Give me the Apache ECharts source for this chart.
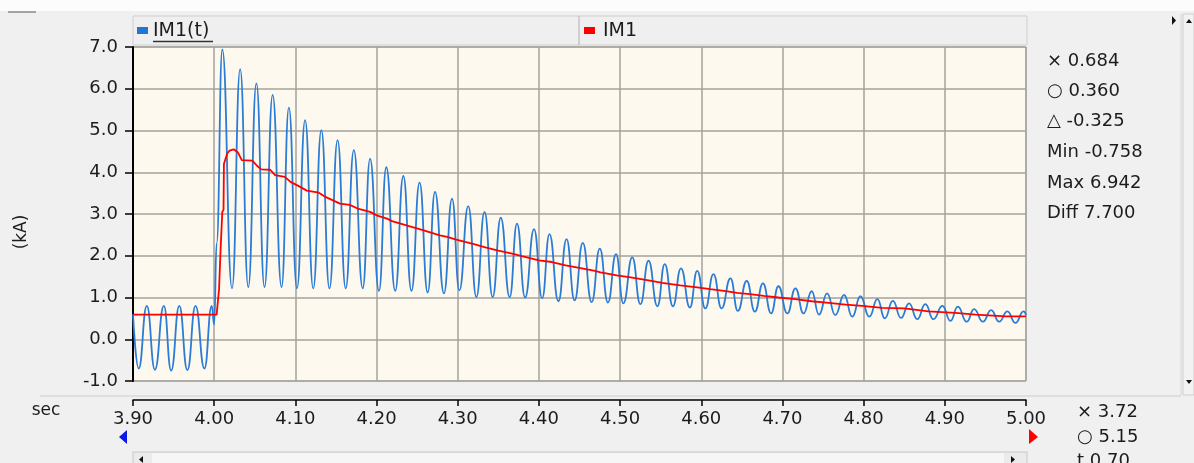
<!DOCTYPE html>
<html>
<head>
<meta charset="utf-8">
<script src="https://cdn.jsdelivr.net/npm/echarts@6/dist/echarts.min.js"></script>
<style>
html,body{margin:0;padding:0;background:#f0f0f0;}
#chart{width:1194px;height:463px;}
</style>
</head>
<body>
<div id="chart"></div>
<script>
// ---- data ----
var xTicksMin = 3.9, xTicksMax = 5.0;
var yTicksMin = -1, yTicksMax = 7;

var blueT = [3.900, 3.907, 3.917, 3.927, 3.938, 3.947, 3.957, 3.967, 3.977, 3.988, 3.997, 4.000, 4.003,
  4.010, 4.022, 4.032, 4.042, 4.052, 4.062, 4.072, 4.083, 4.092, 4.102, 4.112, 4.122, 4.132, 4.142,
  4.152, 4.162, 4.172, 4.183, 4.192, 4.203, 4.212, 4.223, 4.233, 4.243, 4.253, 4.263, 4.272, 4.283,
  4.293, 4.302, 4.313, 4.323, 4.333, 4.343, 4.353, 4.364, 4.373, 4.383, 4.394, 4.404, 4.413, 4.424,
  4.434, 4.444, 4.454, 4.465, 4.475, 4.485, 4.495, 4.504, 4.515, 4.525, 4.535, 4.546, 4.555, 4.565,
  4.575, 4.586, 4.595, 4.605, 4.615, 4.625, 4.636, 4.645, 4.656, 4.666, 4.676, 4.686, 4.695, 4.706,
  4.716, 4.726, 4.736, 4.745, 4.755, 4.765, 4.776, 4.786, 4.796, 4.807, 4.817, 4.826, 4.836, 4.846,
  4.856, 4.866, 4.876, 4.886, 4.897, 4.907, 4.916, 4.927, 4.936, 4.947, 4.957, 4.967, 4.977, 4.987,
  4.997, 5.000];
var blueV = [0.60, -0.70, 0.80, -0.73, 0.80, -0.75, 0.80, -0.74, 0.80, -0.70, 0.80, 0.35, 2.30,
  6.94, 1.22, 6.47, 1.25, 6.13, 1.25, 5.85, 1.25, 5.55, 1.22, 5.25, 1.22, 5.01, 1.22,
  4.77, 1.22, 4.53, 1.22, 4.32, 1.16, 4.12, 1.16, 3.91, 1.16, 3.75, 1.12, 3.53, 1.10,
  3.37, 1.17, 3.19, 1.01, 3.05, 1.01, 2.91, 1.01, 2.77, 1.00, 2.64, 0.98, 2.52, 0.91,
  2.40, 0.93, 2.31, 0.89, 2.17, 0.88, 2.04, 0.86, 1.96, 0.84, 1.88, 0.79, 1.80, 0.79,
  1.70, 0.76, 1.64, 0.74, 1.56, 0.74, 1.46, 0.68, 1.40, 0.66, 1.34, 0.62, 1.27, 0.62,
  1.22, 0.62, 1.15, 0.59, 1.10, 0.58, 1.06, 0.54, 1.03, 0.54, 0.96, 0.50, 0.92, 0.51,
  0.86, 0.48, 0.84, 0.48, 0.80, 0.44, 0.78, 0.42, 0.72, 0.42, 0.70, 0.42, 0.67, 0.39,
  0.67, 0.58];

var redT = [3.900, 4.003, 4.006, 4.008, 4.010, 4.0115, 4.012, 4.016, 4.019, 4.024, 4.029, 4.034, 4.047,
  4.053, 4.058, 4.069, 4.075, 4.087, 4.094, 4.106, 4.114, 4.129, 4.137, 4.155, 4.167, 4.178, 4.192,
  4.201, 4.213, 4.219, 4.238, 4.258, 4.278, 4.287, 4.297, 4.309, 4.320, 4.334, 4.350, 4.367, 4.379,
  4.400, 4.416, 4.433, 4.453, 4.469, 4.476, 4.496, 4.513, 4.535, 4.552, 4.574, 4.595, 4.611, 4.628,
  4.644, 4.660, 4.677, 4.695, 4.716, 4.736, 4.757, 4.778, 4.798, 4.823, 4.850, 4.880, 4.913, 4.938,
  4.975, 5.000];
var redV = [0.59, 0.59, 1.20, 2.20, 3.05, 3.10, 4.20, 4.45, 4.52, 4.55, 4.48, 4.29, 4.28,
  4.15, 4.07, 4.06, 3.93, 3.89, 3.77, 3.65, 3.56, 3.51, 3.41, 3.25, 3.22, 3.12, 3.05,
  2.96, 2.89, 2.83, 2.72, 2.61, 2.49, 2.45, 2.39, 2.33, 2.28, 2.20, 2.12, 2.05, 1.99,
  1.89, 1.85, 1.77, 1.70, 1.64, 1.60, 1.53, 1.48, 1.41, 1.35, 1.29, 1.24, 1.20, 1.16,
  1.11, 1.08, 1.04, 1.00, 0.96, 0.91, 0.87, 0.83, 0.80, 0.75, 0.74, 0.67, 0.63, 0.59,
  0.55, 0.55];

var seriesNames = ['IM1(t)', 'IM1'];
var readouts = ['\u00d7 0.684', '\u25cb 0.360', '\u25b3 -0.325', 'Min -0.758', 'Max 6.942', 'Diff 7.700'];
var timeReadouts = ['\u00d7 3.72', '\u25cb 5.15', 't 0.70'];

// ---- build ----
function zip(a, b) { var r = []; for (var i = 0; i < a.length; i++) r.push([a[i], b[i]]); return r; }

var FONT = 'DejaVu Sans';
var TXT = '#1c1c1c';
var GRID = '#a5a29c';

var chart = echarts.init(document.getElementById('chart'), null, {renderer: 'canvas'});

var graphics = [
  {type: 'rect', shape: {x: 0, y: 0, width: 1194, height: 11}, style: {fill: '#fcfcfc'}, silent: true},
  {type: 'line', shape: {x1: 8, y1: 12, x2: 36, y2: 12}, style: {stroke: '#8a8a8a', lineWidth: 1.5}, silent: true},
  // legend bar
  {type: 'rect', shape: {x: 133, y: 16, width: 894, height: 29}, style: {fill: '#efefef', stroke: '#cfcfcf', lineWidth: 1}, silent: true},
  {type: 'line', shape: {x1: 579, y1: 16, x2: 579, y2: 45}, style: {stroke: '#c4c4c4', lineWidth: 1.5}, silent: true},
  {type: 'rect', shape: {x: 137, y: 27, width: 11, height: 7}, style: {fill: '#1f77d4'}, silent: true},
  {type: 'text', x: 153, y: 31, style: {text: seriesNames[0], font: '19px ' + FONT, fill: TXT, textAlign: 'left', textVerticalAlign: 'middle'}, silent: true},
  {type: 'line', shape: {x1: 153, y1: 41.5, x2: 213, y2: 41.5}, style: {stroke: '#333', lineWidth: 1.5}, silent: true},
  {type: 'rect', shape: {x: 584, y: 27, width: 11, height: 7}, style: {fill: '#ff0000'}, silent: true},
  {type: 'text', x: 603, y: 31, style: {text: seriesNames[1], font: '19px ' + FONT, fill: TXT, textAlign: 'left', textVerticalAlign: 'middle'}, silent: true},
  // right side scroll
  {type: 'polygon', shape: {points: [[1172, 16], [1176, 20.5], [1172, 25]]}, style: {fill: '#111'}, silent: true},
  {type: 'line', shape: {x1: 1181, y1: 14, x2: 1181, y2: 395}, style: {stroke: '#d6d6d6', lineWidth: 1}, silent: true},
  {type: 'rect', shape: {x: 1183, y: 14, width: 11, height: 381}, style: {fill: '#f2f2f2', stroke: '#cfcfcf', lineWidth: 1}, silent: true},
  {type: 'polygon', shape: {points: [[1186, 23], [1189, 19], [1192, 23]]}, style: {fill: '#111'}, silent: true},
  {type: 'polygon', shape: {points: [[1186, 380], [1189, 384], [1192, 380]]}, style: {fill: '#111'}, silent: true},
  // divider above x axis
  {type: 'line', shape: {x1: 40, y1: 396, x2: 1181, y2: 396}, style: {stroke: '#cdcdcd', lineWidth: 1}, silent: true},
  // y axis name
  {type: 'text', x: 22, y: 232, rotation: Math.PI / 2, style: {text: '(kA)', font: '17px ' + FONT, fill: TXT, textAlign: 'center', textVerticalAlign: 'middle'}, silent: true},
  {type: 'text', x: 46, y: 411, style: {text: 'sec', font: '17px ' + FONT, fill: TXT, textAlign: 'center', textVerticalAlign: 'middle'}, silent: true},
  // cursor markers
  {type: 'polygon', shape: {points: [[127, 430], [127, 444], [119, 437]]}, style: {fill: '#0a18e8'}, silent: true},
  {type: 'polygon', shape: {points: [[1029, 429], [1029, 444], [1038, 437]]}, style: {fill: '#ff0000'}, silent: true},
  // bottom scrollbar
  {type: 'rect', shape: {x: 133, y: 452, width: 894, height: 14}, style: {fill: '#ebebeb', stroke: '#c8c8c8', lineWidth: 1}, silent: true},
  {type: 'rect', shape: {x: 152, y: 453, width: 852, height: 12}, style: {fill: '#f6f6f6'}, silent: true},
  {type: 'polygon', shape: {points: [[143, 456], [139, 459.5], [143, 463]]}, style: {fill: '#111'}, silent: true},
  {type: 'polygon', shape: {points: [[1011, 456], [1015, 459.5], [1011, 463]]}, style: {fill: '#111'}, silent: true}
];

var ry = [61.5, 91.5, 121.5, 152.5, 183.5, 213.5];
for (var i = 0; i < readouts.length; i++) {
  graphics.push({type: 'text', x: 1047, y: ry[i], style: {text: readouts[i], font: '18px ' + FONT, fill: TXT, textAlign: 'left', textVerticalAlign: 'middle'}, silent: true});
}
var ty = [412, 437, 461];
for (var j = 0; j < timeReadouts.length; j++) {
  graphics.push({type: 'text', x: 1077, y: ty[j], style: {text: timeReadouts[j], font: '18px ' + FONT, fill: TXT, textAlign: 'left', textVerticalAlign: 'middle'}, silent: true});
}

var option = {
  backgroundColor: '#f0f0f0',
  animation: false,
  grid: {left: 133, top: 47, width: 893, height: 334, show: true, backgroundColor: '#fef9ee', borderColor: GRID, borderWidth: 1},
  xAxis: {
    type: 'value', min: xTicksMin, max: xTicksMax, interval: 0.1, offset: 19,
    axisLine: {show: true, onZero: false, lineStyle: {color: '#000', width: 1.5}},
    axisTick: {show: true, length: 6, lineStyle: {color: '#000', width: 1.5}},
    axisLabel: {formatter: function (v) { return v.toFixed(2); }, fontSize: 18, fontFamily: FONT, color: TXT, margin: 10, showMinLabel: true, showMaxLabel: true},
    splitLine: {show: true, lineStyle: {color: GRID, width: 1.5}}
  },
  yAxis: {
    type: 'value', min: yTicksMin, max: yTicksMax, interval: 1,
    axisLine: {show: true, onZero: false, lineStyle: {color: '#000', width: 2}},
    axisTick: {show: true, length: 8, lineStyle: {color: '#000', width: 1.5}},
    axisLabel: {formatter: function (v) { return v.toFixed(1); }, fontSize: 18, fontFamily: FONT, color: TXT, margin: 15},
    splitLine: {show: true, lineStyle: {color: GRID, width: 1.5}}
  },
  series: [
    {name: seriesNames[0], type: 'line', data: zip(blueT, blueV), showSymbol: false, symbol: 'none', clip: true,
     smooth: 0.5, smoothMonotone: 'x',
     lineStyle: {color: '#2a7cd6', width: 1.8}, z: 2},
    {name: seriesNames[1], type: 'line', data: zip(redT, redV), showSymbol: false, symbol: 'none', clip: true,
     lineStyle: {color: '#ff0000', width: 1.8}, z: 3}
  ],
  graphic: graphics
};
chart.setOption(option);
</script>
</body>
</html>
